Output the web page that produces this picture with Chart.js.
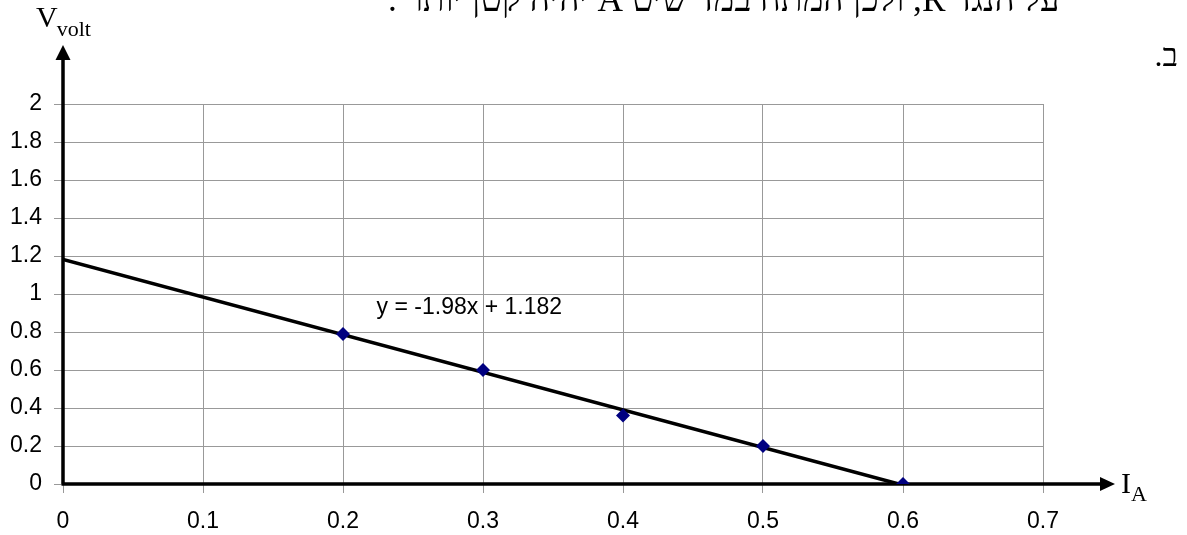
<!DOCTYPE html>
<html>
<head>
<meta charset="utf-8">
<script src="https://cdn.jsdelivr.net/npm/chart.js@4.4.0/dist/chart.umd.min.js"></script>
<style>
  html, body { margin: 0; padding: 0; background: #fff; }
  #wrap { width: 1187px; height: 535px; position: relative; }
</style>
</head>
<body>
<div id="wrap"><canvas id="chart"></canvas></div>
<script>
// measured points (current in A, voltage in V)
const currentA = [0.2, 0.3, 0.4, 0.5, 0.6];
const voltage = [0.79, 0.6, 0.36, 0.2, 0];

// linear trendline as printed on the chart
const trendSlope = -1.98;
const trendIntercept = 1.182;
const equationText = 'y = -1.98x + 1.182';

const xTickLabels = ['0', '0.1', '0.2', '0.3', '0.4', '0.5', '0.6', '0.7'];
const yTickLabels = ['0', '0.2', '0.4', '0.6', '0.8', '1', '1.2', '1.4', '1.6', '1.8', '2'];

const headerText = 'על הנגד R, ולכן המתח במד שיט A יהיה קטן יותר .';
const sectionText = 'ב.';

const points = currentA.map((c, i) => ({ x: c, y: voltage[i] }));
const trendEnd = -trendIntercept / trendSlope;
const trendPoints = [
  { x: 0, y: trendIntercept },
  { x: trendEnd, y: trendIntercept + trendSlope * trendEnd }
];

// black axes with arrow heads, under the markers
const arrowAxes = {
  id: 'arrowAxes',
  beforeDatasetsDraw(chart) {
    const { ctx, chartArea, scales: { x, y } } = chart;
    const x0 = x.getPixelForValue(0);
    const y0 = y.getPixelForValue(0);
    const xTip = chartArea.right + 72;
    const yTip = chartArea.top - 59;
    ctx.save();
    ctx.strokeStyle = '#000';
    ctx.fillStyle = '#000';
    ctx.lineWidth = 3.5;
    ctx.beginPath();
    ctx.moveTo(x0 - 1.5, y0);
    ctx.lineTo(xTip - 12, y0);
    ctx.moveTo(x0, y0);
    ctx.lineTo(x0, yTip + 12);
    ctx.stroke();
    ctx.beginPath();
    ctx.moveTo(xTip, y0);
    ctx.lineTo(xTip - 15, y0 - 7);
    ctx.lineTo(xTip - 15, y0 + 7);
    ctx.closePath();
    ctx.fill();
    ctx.beginPath();
    ctx.moveTo(x0, yTip);
    ctx.lineTo(x0 - 7.5, yTip + 15);
    ctx.lineTo(x0 + 7.5, yTip + 15);
    ctx.closePath();
    ctx.fill();
    ctx.restore();
  },
  afterDraw(chart) {
    const { ctx, chartArea, scales: { x, y } } = chart;
    ctx.save();
    ctx.fillStyle = '#000';
    ctx.textBaseline = 'alphabetic';

    // axis titles
    ctx.font = '30px "Liberation Serif"';
    ctx.fillText('V', 36, 27);
    const vw = ctx.measureText('V').width;
    ctx.font = '22px "Liberation Serif"';
    ctx.fillText('volt', 36 + vw - 1, 36);

    const ix = chartArea.right + 78;
    const iy = y.getPixelForValue(0) + 9;
    ctx.font = '30px "Liberation Serif"';
    ctx.fillText('I', ix, iy);
    const iw = ctx.measureText('I').width;
    ctx.font = '22px "Liberation Serif"';
    ctx.fillText('A', ix + iw, iy + 8);

    // trendline equation
    ctx.font = '23px "Liberation Sans"';
    ctx.fillText(equationText, x.getPixelForValue(0.224), y.getPixelForValue(0.9) + 1);

    // surrounding Hebrew text (page is cut at the top)
    ctx.direction = 'rtl';
    ctx.textAlign = 'right';
    ctx.font = '30px "Liberation Serif"';
    const w = ctx.measureText(headerText).width;
    const size = 30 * 672 / w;
    ctx.font = size.toFixed(1) + 'px "Liberation Serif"';
    ctx.fillText(headerText, 1060, 11);
    ctx.font = '32px "Liberation Serif"';
    ctx.fillText(sectionText, 1178, 66);
    ctx.restore();
  }
};

new Chart(document.getElementById('chart'), {
  data: {
    datasets: [
      {
        type: 'scatter',
        label: 'V',
        data: points,
        pointStyle: 'rectRot',
        pointRadius: 7,
        pointBackgroundColor: '#000080',
        pointBorderColor: '#000080',
        pointBorderWidth: 0
      },
      {
        type: 'line',
        label: 'trend',
        data: trendPoints,
        borderColor: '#000',
        borderWidth: 3.5,
        pointRadius: 0,
        fill: false
      }
    ]
  },
  options: {
    responsive: true,
    maintainAspectRatio: false,
    animation: false,
    layout: { padding: { left: 0, top: 104, right: 144, bottom: 0 } },
    plugins: {
      legend: { display: false },
      tooltip: { enabled: false }
    },
    scales: {
      x: {
        type: 'linear',
        min: 0,
        max: 0.7,
        afterFit: s => { s.height = 51; },
        grid: { color: '#999', lineWidth: 1, tickLength: 9, tickColor: '#999' },
        border: { display: false },
        ticks: {
          stepSize: 0.1,
          padding: 15,
          color: '#000',
          font: { family: 'Liberation Sans', size: 23 },
          callback: (v, i) => xTickLabels[i]
        }
      },
      y: {
        type: 'linear',
        min: 0,
        max: 2,
        afterFit: s => { s.width = 63; },
        grid: { color: '#999', lineWidth: 1, tickLength: 9, tickColor: '#999' },
        border: { display: false },
        ticks: {
          stepSize: 0.2,
          padding: 12,
          color: '#000',
          font: { family: 'Liberation Sans', size: 23 },
          callback: (v, i) => yTickLabels[i]
        }
      }
    }
  },
  plugins: [arrowAxes]
});
</script>
</body>
</html>
